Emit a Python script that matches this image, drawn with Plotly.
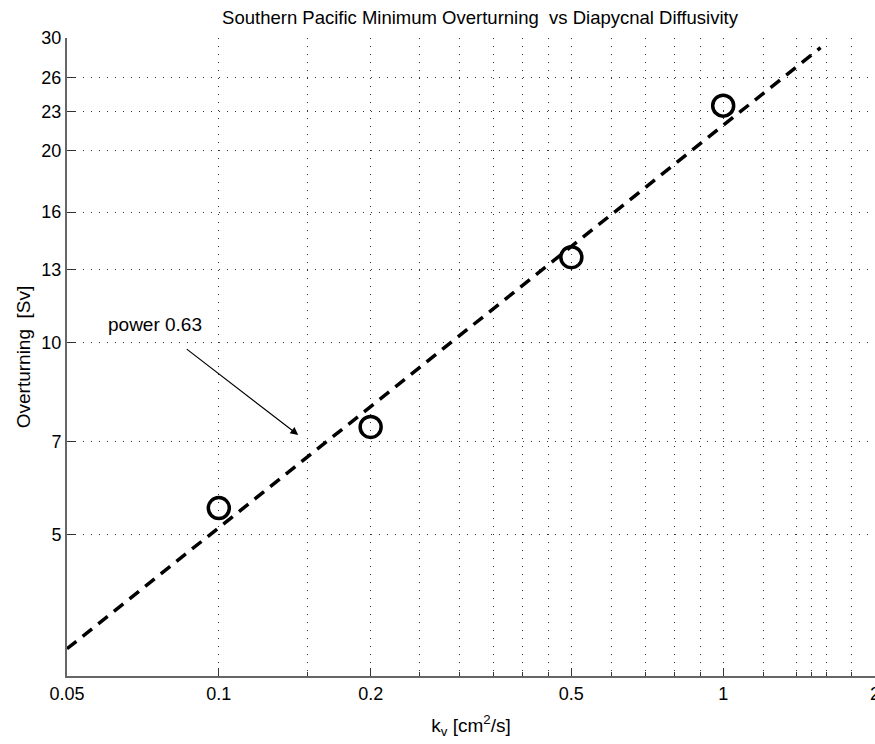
import numpy as np
import plotly.graph_objects as go

# Data
kv = [0.1, 0.2, 0.5, 1.0]
overturning = [5.5, 7.37, 13.6, 23.5]

fit_kv = [0.05, 1.56]
fit_overturning = [3.31, 28.97]

x_major = [0.05, 0.1, 0.2, 0.5, 1, 2]
x_major_text = ["0.05", "0.1", "0.2", "0.5", "1", "2"]
x_minor = [0.15, 0.25, 0.3, 0.35, 0.4, 0.45, 0.6, 0.7, 0.8, 0.9, 1.2, 1.4, 1.5, 1.6, 1.8]
y_ticks = [5, 7, 10, 13, 16, 20, 23, 26, 30]

annot_text = "power 0.63"
annot_text_pos = (0.0747, 10.65)
annot_arrow_head = (0.1437, 7.16)

FONT = "Liberation Sans, Arial, Helvetica, sans-serif"
DOT = "1px,7px"
W, H = 875, 744

fig = go.Figure()
fig.add_trace(go.Scatter(
    x=fit_kv, y=fit_overturning, mode="lines",
    line=dict(color="black", width=3.5, dash="12px,8px"),
    showlegend=False, hoverinfo="skip", cliponaxis=False))
fig.add_trace(go.Scatter(
    x=kv, y=overturning, mode="markers",
    marker=dict(symbol="circle-open", size=21, color="black",
                line=dict(color="black", width=3.5)),
    showlegend=False))

fig.add_annotation(x=np.log10(annot_arrow_head[0]), y=np.log10(annot_arrow_head[1]),
                   ax=-113, ay=-87, text="", showarrow=True,
                   arrowhead=2, arrowsize=1.3, arrowwidth=1.2, arrowcolor="black")
fig.add_annotation(x=np.log10(annot_text_pos[0]), y=np.log10(annot_text_pos[1]),
                   text=annot_text, showarrow=False,
                   font=dict(family=FONT, size=19, color="black"))

fig.update_layout(
    width=W, height=H,
    margin=dict(l=67, r=0, t=38, b=68, autoexpand=False),
    paper_bgcolor="white", plot_bgcolor="white",
    font=dict(family=FONT, size=18, color="black"),
    title=dict(text="Southern Pacific Minimum Overturning  vs Diapycnal Diffusivity",
               xref="container", x=480 / W, xanchor="center",
               yref="container", y=1 - 18 / H, yanchor="middle", automargin=False,
               font=dict(family=FONT, size=18.5, color="black")),
    xaxis=dict(
        type="log", range=[np.log10(0.05), np.log10(2)], automargin=False,
        tickmode="array", tickvals=x_major, ticktext=x_major_text,
        ticklabeloverflow="allow",
        ticks="inside", ticklen=8, tickcolor="#333", tickwidth=1.3,
        showline=True, linecolor="#666", linewidth=2, mirror=False,
        showgrid=True, gridcolor="#333", griddash=DOT, gridwidth=1.2,
        zeroline=False,
        minor=dict(tickmode="array", tickvals=x_minor, ticks="inside",
                   ticklen=4, tickcolor="#333", showgrid=True,
                   gridcolor="#333", griddash=DOT, gridwidth=1.2),
        title=dict(text="k<sub>v</sub> [cm<sup>2</sup>/s]", standoff=16,
                   font=dict(family=FONT, size=19)),
        tickfont=dict(family=FONT, size=18),
    ),
    yaxis=dict(
        type="log", range=[np.log10(3), np.log10(30)], automargin=False,
        tickmode="array", tickvals=y_ticks, ticktext=[str(v) for v in y_ticks],
        ticks="inside", ticklen=8, tickcolor="#333", tickwidth=1.3,
        showline=True, linecolor="#666", linewidth=2, mirror=False,
        showgrid=True, gridcolor="#333", griddash=DOT, gridwidth=1.2,
        zeroline=False,
        title=dict(text="Overturning  [Sv]", standoff=6,
                   font=dict(family=FONT, size=19)),
        tickfont=dict(family=FONT, size=18),
    ),
)

fig.write_html(
    "out.html",
    config={"displayModeBar": False},
    post_script="document.body.style.margin='0';document.body.style.overflow='hidden';",
)
